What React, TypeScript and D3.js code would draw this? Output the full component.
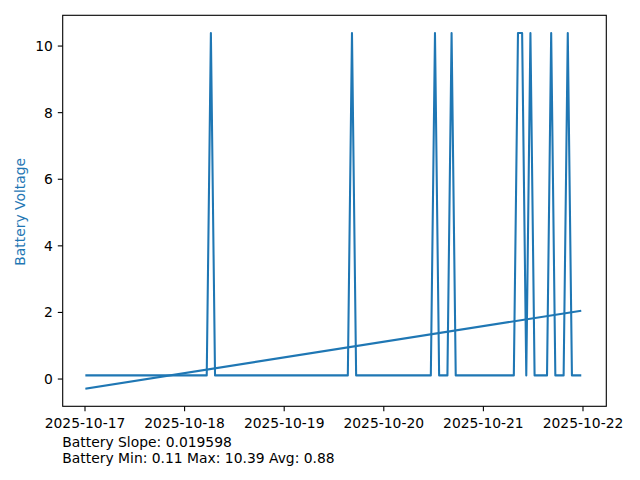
import React from "react";
import * as d3 from "d3";

// Hourly battery samples starting 2025-10-17 00:20
const startTime = new Date(2025, 9, 17, 0, 20);
const sampleCount = 120;
const baselineVoltage = 0.11;
const peakVoltage = 10.39;
const peakIndices = [30, 64, 84, 88, 104, 105, 107, 112, 116];
const xTickDates = ["2025-10-17", "2025-10-18", "2025-10-19", "2025-10-20", "2025-10-21", "2025-10-22"];
const yTicks = [0, 2, 4, 6, 8, 10];
const footerLines = ["Battery Slope: 0.019598", "Battery Min: 0.11 Max: 10.39 Avg: 0.88"];

const voltages: number[] = [];
for (let i = 0; i < sampleCount; i++) {
  voltages.push(peakIndices.includes(i) ? peakVoltage : baselineVoltage);
}
const data = voltages.map((v, i) => ({
  t: new Date(startTime.getTime() + i * 3600 * 1000),
  v,
  i,
}));

export default function App() {
  const W = 640, H = 480;
  const L = 62.7, R = 606.3, T = 15.3, B = 406.3;
  const color = "#1f77b4";
  const font = "'DejaVu Sans', sans-serif";
  const fs = 13.89;

  const day0 = new Date(2025, 9, 17).getTime();
  const dayMs = 86400000;
  const x = d3
    .scaleTime()
    .domain([new Date(day0 - 0.2239 * dayMs), new Date(day0 + 5.234 * dayMs)])
    .range([L, R]);

  // linear regression on sample index
  const n = voltages.length;
  const mx = d3.mean(data, (d) => d.i)!;
  const my = d3.mean(voltages)!;
  let sxy = 0, sxx = 0;
  data.forEach((d) => {
    sxy += (d.i - mx) * (d.v - my);
    sxx += (d.i - mx) * (d.i - mx);
  });
  const slope = sxy / sxx;
  const intercept = my - slope * mx;
  const trend = [
    { t: data[0].t, v: intercept },
    { t: data[n - 1].t, v: intercept + slope * (n - 1) },
  ];

  const allV = [...voltages, trend[0].v, trend[1].v];
  const vmin = d3.min(allV)!, vmax = d3.max(allV)!;
  const pad = (vmax - vmin) * 0.05;
  const y = d3.scaleLinear().domain([vmin - pad, vmax + pad]).range([B, T]);

  const line = d3
    .line<{ t: Date; v: number }>()
    .x((d) => x(d.t))
    .y((d) => y(d.v));

  const tickDates = xTickDates.map((s) => {
    const [yy, mm, dd] = s.split("-").map(Number);
    return { label: s, d: new Date(yy, mm - 1, dd) };
  });

  return (
    <svg width={W} height={H} style={{ display: "block", position: "absolute", left: 0, top: 0 }}>
      <rect x={0} y={0} width={W} height={H} fill="#fff" />
      <defs>
        <clipPath id="plotclip">
          <rect x={L} y={T} width={R - L} height={B - T} />
        </clipPath>
      </defs>
      <g clipPath="url(#plotclip)" fill="none" stroke={color} strokeWidth={2.08} strokeLinejoin="round" strokeLinecap="square">
        <path d={line(data) || ""} />
        <path d={line(trend) || ""} />
      </g>
      <rect x={L} y={T} width={R - L} height={B - T} fill="none" stroke="#000" strokeWidth={1.1} />
      {tickDates.map((tk) => {
        const px = x(tk.d);
        return (
          <g key={tk.label}>
            <line x1={px} x2={px} y1={B} y2={B + 4.9} stroke="#000" strokeWidth={1.1} />
            <text x={px} y={428} textAnchor="middle" fontFamily={font} fontSize={fs} fill="#000">
              {tk.label}
            </text>
          </g>
        );
      })}
      {yTicks.map((v) => {
        const py = y(v);
        return (
          <g key={v}>
            <line x1={L - 4.9} x2={L} y1={py} y2={py} stroke="#000" strokeWidth={1.1} />
            <text x={L - 9.8} y={py} dy="0.35em" textAnchor="end" fontFamily={font} fontSize={fs} fill="#000">
              {v}
            </text>
          </g>
        );
      })}
      <text
        transform={`translate(25, ${(T + B) / 2 + 1}) rotate(-90)`}
        textAnchor="middle"
        fontFamily={font}
        fontSize={fs}
        fill={color}
      >
        Battery Voltage
      </text>
      {footerLines.map((s, k) => (
        <text key={k} x={62.3} y={446.7 + k * 16} fontFamily={font} fontSize={fs} fill="#000">
          {s}
        </text>
      ))}
    </svg>
  );
}
